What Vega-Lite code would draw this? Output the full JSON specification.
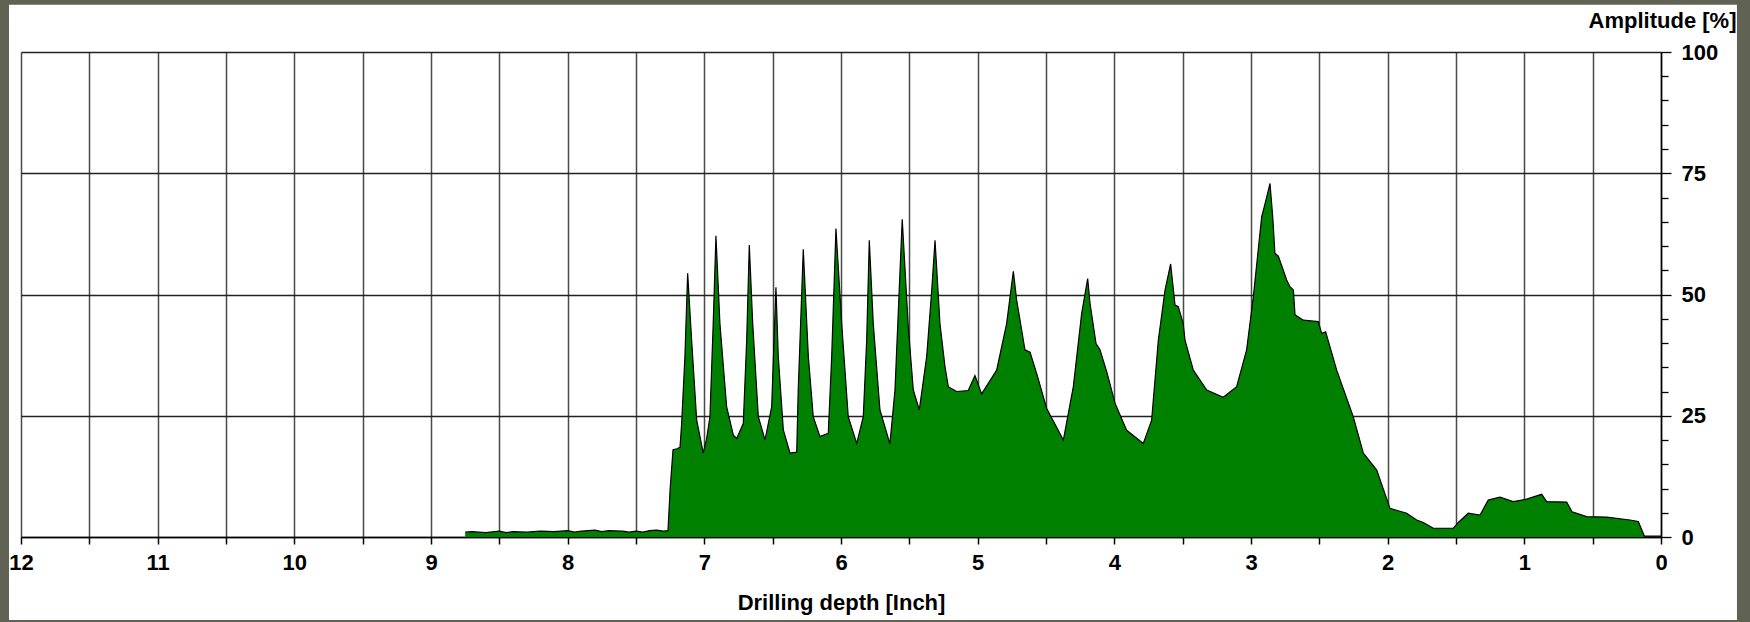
{
  "$schema": "https://vega.github.io/schema/vega-lite/v6.json",
  "width": 1640,
  "height": 485,
  "autosize": {"type": "none"},
  "padding": {"left": 21, "top": 52, "right": 89, "bottom": 85},
  "background": "#ffffff",
  "config": {"view": {"stroke": null}, "font": "Liberation Sans"},
  "resolve": {"axis": {"x": "independent", "y": "independent"}},
  "layer": [
    {
      "data": {"values": [
        {"depth": 8.75, "amplitude": 1.0}, {"depth": 8.7, "amplitude": 1.1}, {"depth": 8.6, "amplitude": 0.9},
        {"depth": 8.5, "amplitude": 1.2}, {"depth": 8.45, "amplitude": 0.9}, {"depth": 8.4, "amplitude": 1.1},
        {"depth": 8.3, "amplitude": 1.0}, {"depth": 8.2, "amplitude": 1.2}, {"depth": 8.1, "amplitude": 1.1},
        {"depth": 8.0, "amplitude": 1.3}, {"depth": 7.95, "amplitude": 1.0}, {"depth": 7.9, "amplitude": 1.2},
        {"depth": 7.8, "amplitude": 1.4}, {"depth": 7.75, "amplitude": 1.1}, {"depth": 7.7, "amplitude": 1.3},
        {"depth": 7.6, "amplitude": 1.2}, {"depth": 7.55, "amplitude": 1.0}, {"depth": 7.5, "amplitude": 1.2},
        {"depth": 7.45, "amplitude": 1.0}, {"depth": 7.4, "amplitude": 1.3}, {"depth": 7.35, "amplitude": 1.4},
        {"depth": 7.3, "amplitude": 1.2}, {"depth": 7.266, "amplitude": 1.3}, {"depth": 7.25, "amplitude": 10},
        {"depth": 7.229, "amplitude": 18}, {"depth": 7.2, "amplitude": 18.2}, {"depth": 7.178, "amplitude": 18.5},
        {"depth": 7.166, "amplitude": 23.4}, {"depth": 7.142, "amplitude": 37.2}, {"depth": 7.122, "amplitude": 54.4},
        {"depth": 7.093, "amplitude": 40.6}, {"depth": 7.056, "amplitude": 24.1}, {"depth": 7.008, "amplitude": 17.3},
        {"depth": 6.983, "amplitude": 20.3}, {"depth": 6.959, "amplitude": 24.8}, {"depth": 6.935, "amplitude": 44},
        {"depth": 6.915, "amplitude": 62.1}, {"depth": 6.886, "amplitude": 44}, {"depth": 6.837, "amplitude": 26.9},
        {"depth": 6.788, "amplitude": 21.0}, {"depth": 6.763, "amplitude": 20.3}, {"depth": 6.715, "amplitude": 23.4},
        {"depth": 6.69, "amplitude": 40.6}, {"depth": 6.671, "amplitude": 60.2}, {"depth": 6.646, "amplitude": 44},
        {"depth": 6.605, "amplitude": 24.8}, {"depth": 6.556, "amplitude": 20}, {"depth": 6.507, "amplitude": 26.9},
        {"depth": 6.49, "amplitude": 40.6}, {"depth": 6.476, "amplitude": 51.5}, {"depth": 6.459, "amplitude": 37.2},
        {"depth": 6.422, "amplitude": 22.1}, {"depth": 6.373, "amplitude": 17.3}, {"depth": 6.324, "amplitude": 17.5},
        {"depth": 6.313, "amplitude": 30.3}, {"depth": 6.276, "amplitude": 59.3}, {"depth": 6.239, "amplitude": 37.2},
        {"depth": 6.203, "amplitude": 24.8}, {"depth": 6.154, "amplitude": 20.7}, {"depth": 6.093, "amplitude": 21.4},
        {"depth": 6.068, "amplitude": 37.2}, {"depth": 6.037, "amplitude": 63.6}, {"depth": 5.995, "amplitude": 44},
        {"depth": 5.947, "amplitude": 24.8}, {"depth": 5.885, "amplitude": 19.3}, {"depth": 5.837, "amplitude": 24.8},
        {"depth": 5.812, "amplitude": 40.6}, {"depth": 5.793, "amplitude": 61.2}, {"depth": 5.764, "amplitude": 44},
        {"depth": 5.715, "amplitude": 26.2}, {"depth": 5.642, "amplitude": 19.2}, {"depth": 5.605, "amplitude": 30.3},
        {"depth": 5.574, "amplitude": 50.9}, {"depth": 5.552, "amplitude": 65.5}, {"depth": 5.508, "amplitude": 43.4},
        {"depth": 5.471, "amplitude": 30.3}, {"depth": 5.427, "amplitude": 26.2}, {"depth": 5.373, "amplitude": 37.2},
        {"depth": 5.336, "amplitude": 50.9}, {"depth": 5.312, "amplitude": 61.2}, {"depth": 5.276, "amplitude": 44},
        {"depth": 5.239, "amplitude": 35.1}, {"depth": 5.215, "amplitude": 31.0}, {"depth": 5.154, "amplitude": 30.0},
        {"depth": 5.069, "amplitude": 30.2}, {"depth": 5.02, "amplitude": 33.3}, {"depth": 4.971, "amplitude": 29.5},
        {"depth": 4.861, "amplitude": 34.4}, {"depth": 4.788, "amplitude": 44}, {"depth": 4.739, "amplitude": 54.8},
        {"depth": 4.715, "amplitude": 48.9}, {"depth": 4.654, "amplitude": 38.6}, {"depth": 4.617, "amplitude": 38.1},
        {"depth": 4.568, "amplitude": 33.7}, {"depth": 4.495, "amplitude": 26.5}, {"depth": 4.373, "amplitude": 20},
        {"depth": 4.3, "amplitude": 31}, {"depth": 4.239, "amplitude": 46.1}, {"depth": 4.195, "amplitude": 53.3},
        {"depth": 4.178, "amplitude": 48.2}, {"depth": 4.134, "amplitude": 39.9}, {"depth": 4.105, "amplitude": 38.6},
        {"depth": 4.056, "amplitude": 34.1}, {"depth": 3.995, "amplitude": 27.6}, {"depth": 3.91, "amplitude": 22},
        {"depth": 3.788, "amplitude": 19.3}, {"depth": 3.727, "amplitude": 24.1}, {"depth": 3.678, "amplitude": 40.6},
        {"depth": 3.629, "amplitude": 50.9}, {"depth": 3.588, "amplitude": 56.3}, {"depth": 3.556, "amplitude": 47.8},
        {"depth": 3.532, "amplitude": 47.5}, {"depth": 3.496, "amplitude": 44}, {"depth": 3.483, "amplitude": 40.6},
        {"depth": 3.422, "amplitude": 34.4}, {"depth": 3.324, "amplitude": 30.3}, {"depth": 3.203, "amplitude": 28.8},
        {"depth": 3.105, "amplitude": 31}, {"depth": 3.032, "amplitude": 38.6}, {"depth": 2.983, "amplitude": 49.5},
        {"depth": 2.922, "amplitude": 66}, {"depth": 2.89, "amplitude": 69.5}, {"depth": 2.861, "amplitude": 72.9},
        {"depth": 2.841, "amplitude": 66}, {"depth": 2.825, "amplitude": 58.5}, {"depth": 2.8, "amplitude": 57.9},
        {"depth": 2.739, "amplitude": 53}, {"depth": 2.715, "amplitude": 51.6}, {"depth": 2.69, "amplitude": 50.9},
        {"depth": 2.678, "amplitude": 45.8}, {"depth": 2.617, "amplitude": 44.7}, {"depth": 2.508, "amplitude": 44.4},
        {"depth": 2.483, "amplitude": 42}, {"depth": 2.454, "amplitude": 42.3}, {"depth": 2.373, "amplitude": 34.4},
        {"depth": 2.252, "amplitude": 24.8}, {"depth": 2.178, "amplitude": 17.3}, {"depth": 2.08, "amplitude": 13.8},
        {"depth": 1.983, "amplitude": 5.9}, {"depth": 1.861, "amplitude": 4.9}, {"depth": 1.788, "amplitude": 3.5},
        {"depth": 1.739, "amplitude": 3.0}, {"depth": 1.666, "amplitude": 1.8}, {"depth": 1.52, "amplitude": 1.8},
        {"depth": 1.483, "amplitude": 3.0}, {"depth": 1.41, "amplitude": 4.9}, {"depth": 1.325, "amplitude": 4.5},
        {"depth": 1.264, "amplitude": 7.6}, {"depth": 1.178, "amplitude": 8.2}, {"depth": 1.081, "amplitude": 7.3},
        {"depth": 0.983, "amplitude": 7.8}, {"depth": 0.873, "amplitude": 8.8}, {"depth": 0.837, "amplitude": 7.3},
        {"depth": 0.69, "amplitude": 7.2}, {"depth": 0.651, "amplitude": 5.2}, {"depth": 0.544, "amplitude": 4.2},
        {"depth": 0.398, "amplitude": 4.1}, {"depth": 0.227, "amplitude": 3.5}, {"depth": 0.166, "amplitude": 3.2},
        {"depth": 0.122, "amplitude": 0.2}, {"depth": 0.0, "amplitude": 0.2}
      ]},
      "mark": {"type": "area", "color": "#008000", "opacity": 1, "fillOpacity": 1, "line": {"color": "#000000", "strokeWidth": 1.2}},
      "encoding": {
        "x": {
          "field": "depth", "type": "quantitative",
          "scale": {"domain": [12, 0], "nice": false, "zero": false},
          "axis": {
            "values": [12, 11.5, 11, 10.5, 10, 9.5, 9, 8.5, 8, 7.5, 7, 6.5, 6, 5.5, 5, 4.5, 4, 3.5, 3, 2.5, 2, 1.5, 1, 0.5, 0],
            "labelExpr": "datum.value % 1 === 0 ? format(datum.value, 'd') : ''",
            "grid": true, "gridColor": "#4a4a4a", "gridWidth": 1.5,
            "domainColor": "#000000", "domainWidth": 1.5,
            "tickColor": "#000000", "tickSize": 7, "tickWidth": 1.5,
            "labelFontSize": 22, "labelFontWeight": "bold", "labelColor": "#000000", "labelPadding": 8,
            "labelFlush": false, "labelOverlap": false,
            "title": "Drilling depth [Inch]", "titleFontSize": 22, "titleFontWeight": "bold", "titleColor": "#000000", "titlePadding": 19
          }
        },
        "y": {
          "field": "amplitude", "type": "quantitative",
          "scale": {"domain": [0, 100], "nice": false},
          "axis": {
            "orient": "right",
            "values": [0, 5, 10, 15, 20, 25, 30, 35, 40, 45, 50, 55, 60, 65, 70, 75, 80, 85, 90, 95, 100],
            "labelExpr": "datum.value % 25 === 0 ? format(datum.value, 'd') : ''",
            "grid": true,
            "gridOpacity": {"condition": {"test": "datum.value % 25 === 0", "value": 1}, "value": 0},
            "gridColor": "#222222", "gridWidth": 1.3,
            "tickSize": {"condition": {"test": "datum.value % 25 === 0", "value": 10}, "value": 7},
            "tickColor": "#000000", "tickWidth": 1.3,
            "domainColor": "#000000", "domainWidth": 1.5,
            "labelFontSize": 22, "labelFontWeight": "bold", "labelColor": "#000000", "labelPadding": 10,
            "labelOverlap": false,
            "title": "Amplitude [%]", "titleAngle": 0, "titleAlign": "right", "titleBaseline": "alphabetic",
            "titleX": 75, "titleY": -25, "titleFontSize": 22, "titleFontWeight": "bold", "titleColor": "#000000"
          }
        }
      }
    },
    {
      "data": {"values": [{}]},
      "mark": {"type": "rect", "fillOpacity": 0, "stroke": "#606353", "strokeWidth": 26},
      "encoding": {
        "x": {"datum": 12.183, "axis": null}, "x2": {"datum": -0.651},
        "y": {"datum": 112.4, "axis": null}, "y2": {"datum": -19.8}
      }
    }
  ]
}
